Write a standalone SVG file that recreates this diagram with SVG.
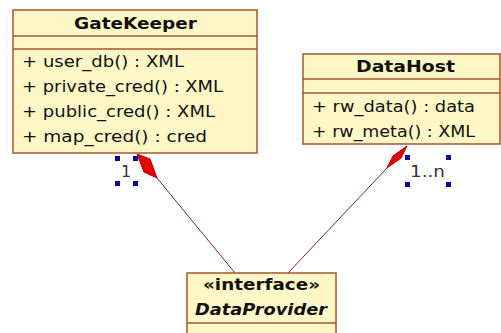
<svg xmlns="http://www.w3.org/2000/svg" width="501" height="333" viewBox="0 0 501 333">
  <style>
    .box { fill: #fff8c6; stroke: #a8552f; stroke-width: 1.5; }
    .sep { stroke: #a8552f; stroke-width: 1.5; }
    .title { font-family: "DejaVu Sans", sans-serif; font-weight: bold; font-size: 16.5px; fill: #111; text-anchor: middle; }
    .op { font-family: "DejaVu Sans", sans-serif; font-size: 16.5px; fill: #111; }
    .mult { font-family: "DejaVu Sans", sans-serif; font-size: 16px; fill: #333; }
    .link { stroke: #7a2a2a; stroke-width: 1; fill: none; }
    .diamond { fill: #e60000; stroke: #b00000; stroke-width: 1; }
    .handle { fill: #0a0aa0; }
  </style>
  <rect width="501" height="333" fill="#ffffff"/>

  <!-- composition connectors -->
  <g id="connectors">
    <line class="link" x1="157" y1="178" x2="235" y2="273"/>
    <polygon class="diamond" points="137,154 150,159 157,178 144,172"/>
    <line class="link" x1="387" y1="168" x2="288" y2="273"/>
    <polygon class="diamond" points="407,146 401,158 387,168 393,156"/>
  </g>

  <g id="GateKeeper">
    <rect class="box" x="13" y="10" width="244" height="143"/>
    <line class="sep" x1="13" y1="36" x2="257" y2="36"/>
    <line class="sep" x1="13" y1="49" x2="257" y2="49"/>
    <text class="title" x="135.5" y="29" textLength="123" lengthAdjust="spacingAndGlyphs">GateKeeper</text>
    <text class="op" x="22" y="67" textLength="162" lengthAdjust="spacingAndGlyphs">+ user_db() : XML</text>
    <text class="op" x="22" y="92" textLength="201" lengthAdjust="spacingAndGlyphs">+ private_cred() : XML</text>
    <text class="op" x="22" y="117" textLength="193" lengthAdjust="spacingAndGlyphs">+ public_cred() : XML</text>
    <text class="op" x="22" y="142" textLength="185" lengthAdjust="spacingAndGlyphs">+ map_cred() : cred</text>
  </g>

  <g id="DataHost">
    <rect class="box" x="303" y="54" width="197" height="90"/>
    <line class="sep" x1="303" y1="79" x2="500" y2="79"/>
    <line class="sep" x1="303" y1="93" x2="500" y2="93"/>
    <text class="title" x="405.5" y="72" textLength="99" lengthAdjust="spacingAndGlyphs">DataHost</text>
    <text class="op" x="312" y="112" textLength="163" lengthAdjust="spacingAndGlyphs">+ rw_data() : data</text>
    <text class="op" x="312" y="137" textLength="163" lengthAdjust="spacingAndGlyphs">+ rw_meta() : XML</text>
  </g>

  <g id="DataProvider">
    <rect class="box" x="187" y="273" width="149" height="70"/>
    <line class="sep" x1="187" y1="323" x2="336" y2="323"/>
    <text class="title" x="261.5" y="290" textLength="117" lengthAdjust="spacingAndGlyphs">«interface»</text>
    <text class="title" x="261" y="315" font-style="italic" textLength="132" lengthAdjust="spacingAndGlyphs">DataProvider</text>
  </g>

  <!-- multiplicity labels with selection handles -->
  <g id="mult-gatekeeper">
    <rect class="handle" x="115" y="156" width="5" height="5"/>
    <rect class="handle" x="133" y="156" width="5" height="5"/>
    <rect class="handle" x="115" y="181" width="5" height="5"/>
    <rect class="handle" x="133" y="181" width="5" height="5"/>
    <text class="mult" x="121" y="177">1</text>
  </g>
  <g id="mult-datahost">
    <rect class="handle" x="405" y="155" width="5" height="5"/>
    <rect class="handle" x="446" y="155" width="5" height="5"/>
    <rect class="handle" x="405" y="182" width="5" height="5"/>
    <rect class="handle" x="446" y="182" width="5" height="5"/>
    <text class="mult" x="410" y="177" textLength="35" lengthAdjust="spacingAndGlyphs">1..n</text>
  </g>
</svg>
